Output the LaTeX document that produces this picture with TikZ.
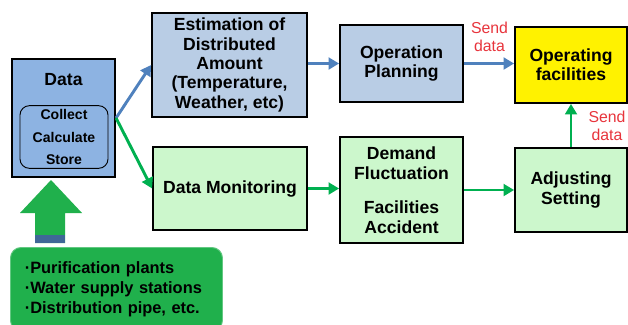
\documentclass[tikz,border=0pt]{standalone}
\usepackage{fontspec}
\setmainfont{Liberation Sans}
\usepackage{tikz}
\usetikzlibrary{arrows.meta, positioning}

\definecolor{bleuData}{HTML}{8DB3E2}
\definecolor{bleuClair}{HTML}{B9CDE5}
\definecolor{vertClair}{HTML}{CCF7CC}
\definecolor{vertFonce}{HTML}{20B04C}
\definecolor{vertFleche}{HTML}{00B050}
\definecolor{bleuFleche}{HTML}{4F81BD}
\definecolor{rougeTexte}{HTML}{E8343C}

\begin{document}
\begin{tikzpicture}[
  x=0.03cm, y=-0.03cm,
  boite/.style={draw, line width=1.5pt, align=center, inner sep=2pt,
    font=\fontsize{15}{16.5}\selectfont\bfseries},
  flecheB/.style={-{Triangle[length=9pt, width=10pt]}, line width=2.5pt, draw=bleuFleche},
  flecheV/.style={-{Triangle[length=9pt, width=10pt]}, line width=2.5pt, draw=vertFleche},
  envoi/.style={text=rougeTexte, align=center, font=\fontsize{13.5}{15.5}\selectfont}
]
  \clip (0,0) rectangle (628,324);
  \fill[white] (0,0) rectangle (628,324);

  % source data
  \node[boite, fill=bleuData, line width=1.8pt, minimum width=3.09cm, minimum height=3.54cm] (data) at (63.5,118) {};
  \node[font=\fontsize{15}{16.5}\selectfont\bfseries] (titre) at (63.5,80) {Data};
  \node[draw, line width=0.8pt, rounded corners=8pt, minimum width=2.64cm, minimum height=1.86cm,
    align=center, font=\fontsize{12}{19}\selectfont\bfseries] (traite) at (64,137)
    {Collect\\ Calculate\\ Store};

  % upper row
  \node[boite, fill=bleuClair, minimum width=4.65cm, minimum height=3.12cm] (estim) at (229.5,65)
    {Estimation of\\ Distributed\\ Amount\\ (Temperature,\\ Weather, etc)};
  \node[boite, fill=bleuClair, minimum width=3.69cm, minimum height=2.31cm] (plan) at (401.5,63.5)
    {Operation\\ Planning};
  \node[boite, fill=yellow, minimum width=3.36cm, minimum height=2.28cm] (exploit) at (571,65)
    {Operating\\ facilities};

  % lower row
  \node[boite, fill=vertClair, minimum width=4.62cm, minimum height=2.49cm] (suivi) at (230,188.5)
    {Data Monitoring};
  \node[boite, fill=vertClair, minimum width=3.69cm, minimum height=3.18cm,
    font=\fontsize{15}{17}\selectfont\bfseries] (demande) at (401.5,190)
    {Demand\\ Fluctuation\\[12pt] Facilities\\ Accident};
  \node[boite, fill=vertClair, minimum width=3.36cm, minimum height=2.52cm] (reglage) at (571,190)
    {Adjusting\\ Setting};

  % facilities box and big arrow
  \node[draw=vertFonce!70!white, fill=vertFonce, line width=0.8pt, rounded corners=9pt,
    anchor=north west, minimum width=6.36cm, minimum height=2.5cm, text width=5.5cm, align=left,
    font=\fontsize{14}{17}\selectfont\bfseries] (sites) at (10,247)
    {·Purification plants\\ ·Water supply stations\\ ·Distribution pipe, etc.};
  \fill[vertFonce] (35,243) -- (35,213) -- (20,213) -- (51,180) -- (82,213) -- (65,213) -- (65,243) -- cycle;
  \fill[bleuFleche!80!black] (35,235) rectangle (65,243);

  % connectors
  \draw[flecheB] (data.east) -- (estim.west);
  \draw[flecheV] (data.east) -- (suivi.west);
  \draw[flecheB] (estim.east |- plan.west) -- (plan.west);
  \draw[flecheB] (plan.east) -- (plan.east -| exploit.west);
  \draw[flecheV] (suivi.east) -- (suivi.east -| demande.west);
  \draw[flecheV] (demande.east) -- (demande.east -| reglage.west);
  \draw[flecheV] (reglage.north) -- (exploit.south);

  \node[envoi] (envoi1) at (489.5,37) {Send\\ data};
  \node[envoi] (envoi2) at (607,126) {Send\\ data};
\end{tikzpicture}
\end{document}
